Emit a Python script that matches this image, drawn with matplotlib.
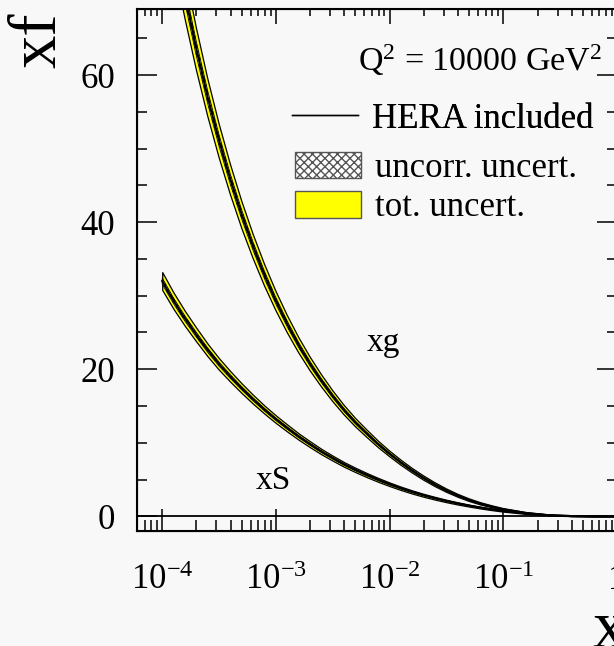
import numpy as np
import matplotlib.pyplot as plt
from matplotlib.lines import Line2D
from matplotlib.patches import Patch
from matplotlib.ticker import FuncFormatter, LogLocator, MultipleLocator, NullFormatter

plt.rcParams['font.family'] = ['Liberation Serif', 'DejaVu Serif']
plt.rcParams['mathtext.fontset'] = 'custom'
plt.rcParams['mathtext.rm'] = 'Liberation Serif'
plt.rcParams['mathtext.it'] = 'Liberation Serif:italic'
plt.rcParams['hatch.linewidth'] = 1.0

# PDFs at Q^2 = 10000 GeV^2, tabulated in log10(x)
log_x = [-4.0, -3.9, -3.8, -3.7, -3.6, -3.5, -3.4, -3.3, -3.2, -3.1,
         -3.0, -2.9, -2.8, -2.7, -2.6, -2.5, -2.4, -2.3, -2.2, -2.1,
         -2.0, -1.9, -1.8, -1.7, -1.6, -1.5, -1.4, -1.3, -1.2, -1.1,
         -1.0, -0.8, -0.6, -0.4, -0.2, 0.0]

xg = [88.0, 79.0, 70.9, 63.6, 57.0, 51.1, 45.8, 41.0, 36.7, 32.8,
      29.3, 26.15, 23.3, 20.75, 18.45, 16.35, 14.45, 12.75, 11.25, 9.8,
      8.5, 7.3, 6.2, 5.2, 4.3, 3.5, 2.8, 2.2, 1.7, 1.3,
      0.95, 0.45, 0.15, 0.03, 0.0, 0.0]
# relative uncertainties in percent
xg_tot_pct = [4.5, 4.5, 4.5, 4.5, 4.5, 4.5, 4.5, 4.5, 4.5, 4.5,
              4.5, 4.5, 4.5, 4.5, 4.5, 4.5, 4.5, 4.5, 4.5, 4.5,
              4.5, 4.8, 5.0, 5.5, 6.0, 6.5, 7.0, 8.0, 9.0, 10.0,
              11.0, 14.0, 20.0, 30.0, 0.0, 0.0]
xg_unc_pct = [1.5, 1.5, 1.5, 1.5, 1.5, 1.5, 1.5, 1.5, 1.5, 1.5,
              1.5, 1.5, 1.5, 1.5, 1.5, 1.5, 1.5, 1.5, 1.5, 1.5,
              1.5, 1.6, 1.7, 1.8, 2.0, 2.2, 2.4, 2.7, 3.0, 3.3,
              3.7, 4.5, 7.0, 10.0, 0.0, 0.0]

xS = [32.0, 29.3, 26.9, 24.7, 22.6, 20.7, 19.0, 17.4, 15.9, 14.5,
      13.2, 12.0, 10.85, 9.8, 8.8, 7.9, 7.05, 6.3, 5.6, 4.95,
      4.35, 3.8, 3.3, 2.85, 2.45, 2.08, 1.75, 1.45, 1.18, 0.94,
      0.72, 0.38, 0.14, 0.03, 0.0, 0.0]
xS_tot_pct = [3.8, 3.8, 3.8, 3.8, 3.8, 3.8, 3.8, 3.8, 3.8, 3.8,
              3.9, 4.0, 4.0, 4.1, 4.2, 4.3, 4.5, 4.7, 5.0, 5.3,
              5.6, 6.0, 6.5, 7.0, 7.5, 8.0, 8.5, 9.0, 10.0, 11.0,
              12.0, 15.0, 20.0, 30.0, 0.0, 0.0]
xS_unc_pct = [1.3, 1.3, 1.3, 1.3, 1.3, 1.3, 1.3, 1.3, 1.3, 1.3,
              1.3, 1.4, 1.4, 1.4, 1.5, 1.5, 1.6, 1.6, 1.7, 1.8,
              1.9, 2.0, 2.2, 2.4, 2.5, 2.7, 2.9, 3.0, 3.4, 3.7,
              4.0, 5.0, 7.0, 10.0, 0.0, 0.0]

curve_names = ['xg', 'xS']
legend_labels = ['HERA included', 'uncorr. uncert.', 'tot. uncert.']
scale_label = r'Q$^{2}$ = 10000 GeV$^{2}$'

bg = '#f8f8f8'
x = 10.0 ** np.array(log_x)

fig = plt.figure(figsize=(6.14, 6.46), dpi=100, facecolor=bg)
ax = fig.add_axes([137 / 614, 115 / 646, 480 / 614, 522 / 646])
ax.set_facecolor(bg)


def draw_band(val, tot_pct, unc_pct):
    val = np.array(val)
    tot = val * np.array(tot_pct) / 100.0
    unc = val * np.array(unc_pct) / 100.0
    ax.fill_between(x, val - tot, val + tot, facecolor='yellow',
                    edgecolor='black', lw=0.9, zorder=2)
    ax.fill_between(x, val - unc, val + unc, facecolor='white',
                    edgecolor='black', hatch='xxxx', lw=0.6, zorder=3)
    ax.plot(x, val, color='black', lw=1.5, zorder=4)


draw_band(xg, xg_tot_pct, xg_unc_pct)
draw_band(xS, xS_tot_pct, xS_unc_pct)
ax.axhline(0, color='black', lw=1.3, zorder=1.5)

ax.set_xscale('log')
ax.set_xlim(6e-5, 1)
ax.set_ylim(-2, 69)


def decade_label(v, pos):
    if np.isclose(v, 1.0):
        return '1'
    return r'$10^{%d}$' % int(round(np.log10(v)))


ax.xaxis.set_major_locator(LogLocator(base=10, numticks=10))
ax.xaxis.set_minor_locator(LogLocator(base=10, subs=np.arange(2, 10), numticks=20))
ax.xaxis.set_major_formatter(FuncFormatter(decade_label))
ax.xaxis.set_minor_formatter(NullFormatter())
ax.yaxis.set_major_locator(MultipleLocator(20))
ax.yaxis.set_minor_locator(MultipleLocator(5))

ax.tick_params(axis='x', which='major', direction='in', length=15.8, width=1.1,
               labelsize=25, pad=24)
ax.tick_params(axis='x', which='minor', direction='in', length=7.9, width=1.1)
ax.tick_params(axis='y', which='major', direction='in', length=14.4, width=1.1,
               right=True, labelsize=25, pad=16)
ax.tick_params(axis='y', which='minor', direction='in', length=7.2, width=1.1,
               right=True)
for s in ax.spines.values():
    s.set_linewidth(1.5)

# shorter ticks along the top edge
top = ax.twiny()
top.set_xscale('log')
top.set_xlim(ax.get_xlim())
top.xaxis.set_major_locator(LogLocator(base=10, numticks=10))
top.xaxis.set_minor_locator(LogLocator(base=10, subs=np.arange(2, 10), numticks=20))
top.xaxis.set_minor_formatter(NullFormatter())
top.tick_params(axis='x', which='major', direction='in', length=10.8, width=1.1,
                labeltop=False)
top.tick_params(axis='x', which='minor', direction='in', length=5.0, width=1.1)

ax.text(8.8e-3, 23.6, curve_names[0], fontsize=24, ha='center', va='center')
ax.text(9.5e-4, 4.9, curve_names[1], fontsize=24, ha='center', va='center')

fig.text(602 / 614, 1 - 60 / 646, scale_label, fontsize=24.5, ha='right', va='center')

leg1 = fig.legend([Line2D([], [], color='black', lw=1.0)], legend_labels[:1],
                  loc='center left', bbox_to_anchor=(292 / 614, 1 - 119 / 646),
                  frameon=False, fontsize=25, handlelength=1.9, handletextpad=0.4,
                  borderpad=0, borderaxespad=0)
fig.add_artist(leg1)
fig.legend([Patch(facecolor='white', edgecolor='#555555', hatch='xxxx', lw=1.0),
            Patch(facecolor='yellow', edgecolor='#555555', lw=1.0)],
           legend_labels[1:], loc='center left',
           bbox_to_anchor=(295 / 614, 1 - 188 / 646), frameon=False, fontsize=25,
           handlelength=1.9, handleheight=0.81, handletextpad=0.4,
           labelspacing=0.17, borderpad=0, borderaxespad=0)

fig.text(39 / 614, 1 - 40 / 646, 'xf', fontsize=48, rotation=90,
         ha='center', va='center')
fig.text(592 / 614, -1 / 646, 'x', fontsize=48, ha='left', va='baseline')

fig.savefig('out.png', dpi=100, facecolor=bg)
